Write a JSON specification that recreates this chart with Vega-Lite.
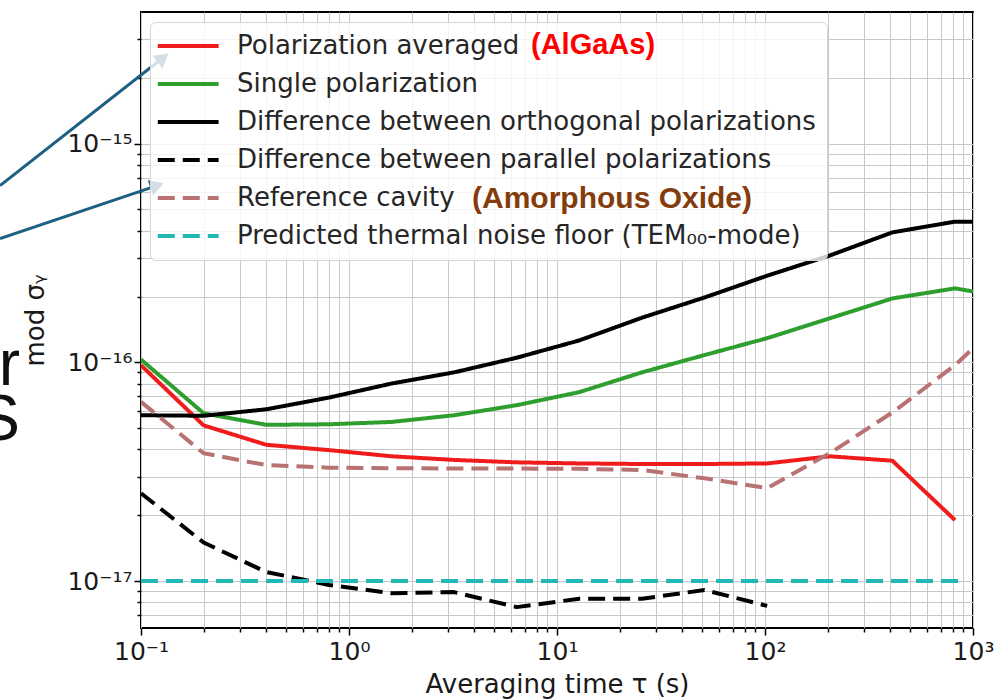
{
  "$schema": "https://vega.github.io/schema/vega-lite/v6.json",
  "width": 832,
  "height": 616,
  "autosize": {"type": "none"},
  "padding": {"left": 141, "top": 12, "right": 23, "bottom": 72},
  "background": "white",
  "datasets": {
    "curves": [
      {"series": "Polarization averaged", "tau": 0.1, "sigma": 9.7e-17},
      {"series": "Polarization averaged", "tau": 0.2, "sigma": 5.15e-17},
      {"series": "Polarization averaged", "tau": 0.4, "sigma": 4.2e-17},
      {"series": "Polarization averaged", "tau": 0.8, "sigma": 3.97e-17},
      {"series": "Polarization averaged", "tau": 1.6, "sigma": 3.72e-17},
      {"series": "Polarization averaged", "tau": 3.2, "sigma": 3.58e-17},
      {"series": "Polarization averaged", "tau": 6.4, "sigma": 3.49e-17},
      {"series": "Polarization averaged", "tau": 12.8, "sigma": 3.45e-17},
      {"series": "Polarization averaged", "tau": 25.6, "sigma": 3.43e-17},
      {"series": "Polarization averaged", "tau": 51.2, "sigma": 3.43e-17},
      {"series": "Polarization averaged", "tau": 102.4, "sigma": 3.45e-17},
      {"series": "Polarization averaged", "tau": 204.8, "sigma": 3.72e-17},
      {"series": "Polarization averaged", "tau": 409.6, "sigma": 3.55e-17},
      {"series": "Polarization averaged", "tau": 819.2, "sigma": 1.9e-17},
      {"series": "Single polarization", "tau": 0.1, "sigma": 1.03e-16},
      {"series": "Single polarization", "tau": 0.2, "sigma": 5.85e-17},
      {"series": "Single polarization", "tau": 0.4, "sigma": 5.18e-17},
      {"series": "Single polarization", "tau": 0.8, "sigma": 5.21e-17},
      {"series": "Single polarization", "tau": 1.6, "sigma": 5.34e-17},
      {"series": "Single polarization", "tau": 3.2, "sigma": 5.73e-17},
      {"series": "Single polarization", "tau": 6.4, "sigma": 6.37e-17},
      {"series": "Single polarization", "tau": 12.8, "sigma": 7.31e-17},
      {"series": "Single polarization", "tau": 25.6, "sigma": 9.0e-17},
      {"series": "Single polarization", "tau": 51.2, "sigma": 1.08e-16},
      {"series": "Single polarization", "tau": 102.4, "sigma": 1.29e-16},
      {"series": "Single polarization", "tau": 204.8, "sigma": 1.59e-16},
      {"series": "Single polarization", "tau": 409.6, "sigma": 1.96e-16},
      {"series": "Single polarization", "tau": 819.2, "sigma": 2.18e-16},
      {"series": "Single polarization", "tau": 1000, "sigma": 2.11e-16},
      {"series": "Difference between orthogonal polarizations", "tau": 0.1, "sigma": 5.73e-17},
      {"series": "Difference between orthogonal polarizations", "tau": 0.2, "sigma": 5.7e-17},
      {"series": "Difference between orthogonal polarizations", "tau": 0.4, "sigma": 6.1e-17},
      {"series": "Difference between orthogonal polarizations", "tau": 0.8, "sigma": 6.9e-17},
      {"series": "Difference between orthogonal polarizations", "tau": 1.6, "sigma": 8.0e-17},
      {"series": "Difference between orthogonal polarizations", "tau": 3.2, "sigma": 9.0e-17},
      {"series": "Difference between orthogonal polarizations", "tau": 6.4, "sigma": 1.05e-16},
      {"series": "Difference between orthogonal polarizations", "tau": 12.8, "sigma": 1.26e-16},
      {"series": "Difference between orthogonal polarizations", "tau": 25.6, "sigma": 1.6e-16},
      {"series": "Difference between orthogonal polarizations", "tau": 51.2, "sigma": 1.98e-16},
      {"series": "Difference between orthogonal polarizations", "tau": 102.4, "sigma": 2.49e-16},
      {"series": "Difference between orthogonal polarizations", "tau": 204.8, "sigma": 3.08e-16},
      {"series": "Difference between orthogonal polarizations", "tau": 409.6, "sigma": 3.93e-16},
      {"series": "Difference between orthogonal polarizations", "tau": 819.2, "sigma": 4.4e-16},
      {"series": "Difference between orthogonal polarizations", "tau": 1000, "sigma": 4.4e-16},
      {"series": "Difference between parallel polarizations", "tau": 0.1, "sigma": 2.52e-17},
      {"series": "Difference between parallel polarizations", "tau": 0.2, "sigma": 1.5e-17},
      {"series": "Difference between parallel polarizations", "tau": 0.4, "sigma": 1.1e-17},
      {"series": "Difference between parallel polarizations", "tau": 0.8, "sigma": 9.6e-18},
      {"series": "Difference between parallel polarizations", "tau": 1.6, "sigma": 8.8e-18},
      {"series": "Difference between parallel polarizations", "tau": 3.2, "sigma": 8.9e-18},
      {"series": "Difference between parallel polarizations", "tau": 6.4, "sigma": 7.6e-18},
      {"series": "Difference between parallel polarizations", "tau": 12.8, "sigma": 8.3e-18},
      {"series": "Difference between parallel polarizations", "tau": 25.6, "sigma": 8.3e-18},
      {"series": "Difference between parallel polarizations", "tau": 51.2, "sigma": 9.1e-18},
      {"series": "Difference between parallel polarizations", "tau": 102.4, "sigma": 7.7e-18},
      {"series": "Reference cavity", "tau": 0.1, "sigma": 6.6e-17},
      {"series": "Reference cavity", "tau": 0.2, "sigma": 3.84e-17},
      {"series": "Reference cavity", "tau": 0.4, "sigma": 3.39e-17},
      {"series": "Reference cavity", "tau": 0.8, "sigma": 3.3e-17},
      {"series": "Reference cavity", "tau": 1.6, "sigma": 3.28e-17},
      {"series": "Reference cavity", "tau": 3.2, "sigma": 3.27e-17},
      {"series": "Reference cavity", "tau": 6.4, "sigma": 3.27e-17},
      {"series": "Reference cavity", "tau": 12.8, "sigma": 3.26e-17},
      {"series": "Reference cavity", "tau": 25.6, "sigma": 3.22e-17},
      {"series": "Reference cavity", "tau": 51.2, "sigma": 2.95e-17},
      {"series": "Reference cavity", "tau": 102.4, "sigma": 2.66e-17},
      {"series": "Reference cavity", "tau": 204.8, "sigma": 3.84e-17},
      {"series": "Reference cavity", "tau": 409.6, "sigma": 5.9e-17},
      {"series": "Reference cavity", "tau": 819.2, "sigma": 9.7e-17},
      {"series": "Reference cavity", "tau": 1000, "sigma": 1.16e-16},
      {"series": "Predicted thermal noise floor (TEM₀₀-mode)", "tau": 0.1, "sigma": 1e-17},
      {"series": "Predicted thermal noise floor (TEM₀₀-mode)", "tau": 920, "sigma": 1e-17}
    ],
    "arrows": [
      {"id": 1, "x0": 0.021, "y0": 6.43e-16, "x1": 0.1276, "y1": 2.47e-15},
      {"id": 2, "x0": 0.021, "y0": 3.68e-16, "x1": 0.1194, "y1": 6.43e-16}
    ],
    "fragments": [
      {"t": "r", "x": 0.0262, "y": 7.85e-17},
      {"t": "S", "x": 0.0262, "y": 4.41e-17}
    ]
  },
  "layer": [
    {
      "data": {"name": "curves"},
      "mark": {"type": "line", "clip": true, "strokeWidth": 4, "strokeJoin": "round"},
      "encoding": {
        "x": {
          "field": "tau", "type": "quantitative",
          "scale": {"type": "log", "domain": [0.1, 1000], "nice": false},
          "axis": {
            "title": "Averaging time τ (s)",
            "values": [0.1, 0.2, 0.3, 0.4, 0.5, 0.6, 0.7, 0.8, 0.9, 1, 2, 3, 4, 5, 6, 7, 8, 9, 10, 20, 30, 40, 50, 60, 70, 80, 90, 100, 200, 300, 400, 500, 600, 700, 800, 900, 1000],
            "labelExpr": "datum.value == 0.1 ? '10⁻¹' : datum.value == 1 ? '10⁰' : datum.value == 10 ? '10¹' : datum.value == 100 ? '10²' : datum.value == 1000 ? '10³' : ''",
            "tickSize": {"condition": {"test": "indexof([0.1, 1, 10, 100, 1000], datum.value) >= 0", "value": 7}, "value": 4},
            "labelFlush": false,
            "labelPadding": 4,
            "titlePadding": 7
          }
        },
        "y": {
          "field": "sigma", "type": "quantitative",
          "scale": {"type": "log", "domain": [6.1e-18, 4e-15], "nice": false},
          "axis": {
            "title": "mod σᵧ",
            "titleFontSize": 26,
            "values": [7e-18, 8e-18, 9e-18, 1e-17, 2e-17, 3e-17, 4e-17, 5e-17, 6e-17, 7e-17, 8e-17, 9e-17, 1e-16, 2e-16, 3e-16, 4e-16, 5e-16, 6e-16, 7e-16, 8e-16, 9e-16, 1e-15, 2e-15, 3e-15],
            "labelExpr": "datum.value == 1e-15 ? '10⁻¹⁵' : datum.value == 1e-16 ? '10⁻¹⁶' : datum.value == 1e-17 ? '10⁻¹⁷' : ''",
            "tickSize": {"condition": {"test": "indexof([1e-17, 1e-16, 1e-15], datum.value) >= 0", "value": 7}, "value": 4},
            "labelPadding": 2,
            "titlePadding": 18
          }
        },
        "color": {
          "field": "series", "type": "nominal",
          "scale": {
            "domain": ["Polarization averaged", "Single polarization", "Difference between orthogonal polarizations", "Difference between parallel polarizations", "Reference cavity", "Predicted thermal noise floor (TEM₀₀-mode)"],
            "range": ["#f01c1c", "#2e9e2e", "#000000", "#000000", "#b87272", "#22b8b5"]
          },
          "legend": {
            "title": null, "orient": "none", "legendX": 9, "legendY": 10,
            "symbolType": "M-1.6,0H4.4", "symbolSize": 411, "symbolStrokeWidth": 4,
            "labelFontSize": 26, "labelColor": "#262626", "labelLimit": 1000, "labelOffset": 50,
            "rowPadding": 12, "padding": 11,
            "fillColor": "rgba(255,255,255,0.8)", "strokeColor": "#d5d5d5", "cornerRadius": 6
          }
        },
        "strokeDash": {
          "field": "series", "type": "nominal",
          "scale": {
            "domain": ["Polarization averaged", "Single polarization", "Difference between orthogonal polarizations", "Difference between parallel polarizations", "Reference cavity", "Predicted thermal noise floor (TEM₀₀-mode)"],
            "range": [[1, 0], [1, 0], [1, 0], [17, 8], [17, 8], [17, 8]]
          }
        }
      }
    },
    {
      "data": {"name": "arrows"},
      "mark": {"type": "rule", "clip": false, "strokeWidth": 3, "color": "#1d6082"},
      "encoding": {
        "x": {"field": "x0", "type": "quantitative", "scale": {"type": "log", "domain": [0.1, 1000], "nice": false}},
        "y": {"field": "y0", "type": "quantitative", "scale": {"type": "log", "domain": [6.1e-18, 4e-15], "nice": false}},
        "x2": {"field": "x1"},
        "y2": {"field": "y1"}
      }
    },
    {
      "data": {"name": "arrows"},
      "transform": [{"filter": "datum.id == 1"}],
      "mark": {"type": "point", "shape": "triangle-up", "filled": true, "size": 260, "angle": 52, "color": "#1d6082", "opacity": 1, "clip": false},
      "encoding": {
        "x": {"field": "x1", "type": "quantitative", "scale": {"type": "log", "domain": [0.1, 1000], "nice": false}},
        "y": {"field": "y1", "type": "quantitative", "scale": {"type": "log", "domain": [6.1e-18, 4e-15], "nice": false}}
      }
    },
    {
      "data": {"name": "arrows"},
      "transform": [{"filter": "datum.id == 2"}],
      "mark": {"type": "point", "shape": "triangle-up", "filled": true, "size": 260, "angle": 71, "color": "#1d6082", "opacity": 1, "clip": false},
      "encoding": {
        "x": {"field": "x1", "type": "quantitative", "scale": {"type": "log", "domain": [0.1, 1000], "nice": false}},
        "y": {"field": "y1", "type": "quantitative", "scale": {"type": "log", "domain": [6.1e-18, 4e-15], "nice": false}}
      }
    },
    {
      "data": {"name": "fragments"},
      "mark": {"type": "text", "align": "right", "baseline": "alphabetic", "fontSize": 64, "font": "Liberation Sans", "color": "#111111", "clip": false},
      "encoding": {
        "x": {"field": "x", "type": "quantitative", "scale": {"type": "log", "domain": [0.1, 1000], "nice": false}},
        "y": {"field": "y", "type": "quantitative", "scale": {"type": "log", "domain": [6.1e-18, 4e-15], "nice": false}},
        "text": {"field": "t"}
      }
    },
    {
      "data": {"values": [{"note1": "(AlGaAs)"}]},
      "mark": {"type": "point", "opacity": 0},
      "encoding": {
        "shape": {
          "field": "note1", "type": "nominal",
          "legend": {
            "title": null, "orient": "none", "legendX": 361, "legendY": 18, "zindex": 1,
            "labelFont": "Liberation Sans", "labelFontWeight": "bold", "labelFontSize": 29, "labelColor": "#ff0000",
            "symbolOpacity": 0, "symbolSize": 0, "labelOffset": 0, "padding": 0, "labelLimit": 1000
          }
        }
      }
    },
    {
      "data": {"values": [{"note2": "(Amorphous Oxide)"}]},
      "mark": {"type": "point", "filled": true, "opacity": 0},
      "encoding": {
        "fill": {
          "field": "note2", "type": "nominal",
          "scale": {"range": ["#843c0c"]},
          "legend": {
            "title": null, "orient": "none", "legendX": 301, "legendY": 172, "zindex": 1,
            "labelFont": "Liberation Sans", "labelFontWeight": "bold", "labelFontSize": 30, "labelColor": "#843c0c",
            "symbolOpacity": 0, "symbolSize": 0, "labelOffset": 0, "padding": 0, "labelLimit": 1000
          }
        }
      }
    }
  ],
  "config": {
    "font": "DejaVu Sans",
    "view": {"stroke": "#000000", "strokeWidth": 2},
    "axis": {
      "grid": true,
      "gridColor": "#c8c8c8",
      "gridWidth": 1,
      "domain": false,
      "tickColor": "#000000",
      "tickWidth": 1.5,
      "labelFontSize": 25,
      "labelColor": "#1a1a1a",
      "labelOverlap": false,
      "titleFontSize": 26,
      "titleFontWeight": "normal",
      "titleColor": "#1a1a1a"
    }
  }
}
